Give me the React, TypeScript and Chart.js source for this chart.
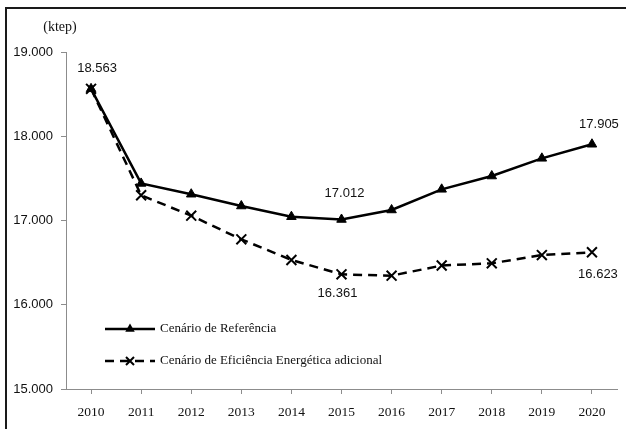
import React, { useEffect, useRef } from "react";
import { Chart, registerables } from "chart.js";

Chart.register(...registerables);

const years = ["2010", "2011", "2012", "2013", "2014", "2015", "2016", "2017", "2018", "2019", "2020"];
const referencia = [18563, 17440, 17312, 17172, 17045, 17012, 17125, 17370, 17528, 17738, 17905];
const eficiencia = [18563, 17300, 17057, 16777, 16531, 16361, 16345, 16466, 16492, 16590, 16623];
const yTicks = [15000, 16000, 17000, 18000, 19000];
const seriesNames = ["Cenário de Referência", "Cenário de Eficiência Energética adicional"];
const unitLabel = "(ktep)";

// which points carry a value label (dataset index, point index) and their placement
const valueLabels = [
  { ds: 0, i: 0, dx: 6, dy: -20 },
  { ds: 0, i: 5, dx: 3, dy: -26 },
  { ds: 1, i: 5, dx: -4, dy: 19 },
  { ds: 0, i: 10, dx: 7, dy: -20 },
  { ds: 1, i: 10, dx: 6, dy: 22 },
];

const fmt = (v: number) => String(Math.round(v)).replace(/\B(?=(\d{3})+(?!\d))/g, ".");

const SERIF = "'Liberation Serif', 'DejaVu Serif', serif";
const SANS = "'Liberation Sans', Arial, sans-serif";

const overlayPlugin = {
  id: "overlay",
  afterDatasetsDraw(chart: any) {
    const ctx = chart.ctx as CanvasRenderingContext2D;
    const area = chart.chartArea;
    ctx.save();
    // value labels
    ctx.font = `13px ${SANS}`;
    ctx.fillStyle = "#111";
    ctx.textAlign = "center";
    ctx.textBaseline = "middle";
    valueLabels.forEach((l) => {
      const meta = chart.getDatasetMeta(l.ds);
      const pt = meta.data[l.i];
      const v = chart.data.datasets[l.ds].data[l.i];
      ctx.fillText(fmt(v), pt.x + l.dx, pt.y + l.dy);
    });
    // unit label
    ctx.font = `14px ${SERIF}`;
    ctx.textAlign = "center";
    ctx.fillText(unitLabel, area.left - 6, 27);

    // legend
    const lx0 = area.left + 39;
    const lx1 = area.left + 89;
    const mx = area.left + 64;
    const ys = [area.bottom - 60, area.bottom - 28];
    // series 1
    ctx.strokeStyle = "#000";
    ctx.lineWidth = 2.5;
    ctx.setLineDash([]);
    ctx.beginPath();
    ctx.moveTo(lx0, ys[0]);
    ctx.lineTo(lx1, ys[0]);
    ctx.stroke();
    const r = 5.5;
    ctx.fillStyle = "#000";
    ctx.beginPath();
    ctx.moveTo(mx, ys[0] - r);
    ctx.lineTo(mx + 0.866 * r, ys[0] + 0.5 * r);
    ctx.lineTo(mx - 0.866 * r, ys[0] + 0.5 * r);
    ctx.closePath();
    ctx.fill();
    // series 2
    ctx.setLineDash([9, 6]);
    ctx.beginPath();
    ctx.moveTo(lx0, ys[1]);
    ctx.lineTo(lx1, ys[1]);
    ctx.stroke();
    ctx.setLineDash([]);
    ctx.lineWidth = 2;
    const c = 4;
    ctx.beginPath();
    ctx.moveTo(mx - c, ys[1] - c);
    ctx.lineTo(mx + c, ys[1] + c);
    ctx.moveTo(mx + c, ys[1] - c);
    ctx.lineTo(mx - c, ys[1] + c);
    ctx.stroke();

    ctx.font = `13px ${SERIF}`;
    ctx.fillStyle = "#111";
    ctx.textAlign = "left";
    ctx.textBaseline = "middle";
    ctx.fillText(seriesNames[0], lx1 + 5, ys[0]);
    ctx.fillText(seriesNames[1], lx1 + 5, ys[1]);
    ctx.restore();
  },
};

export default function App() {
  const ref = useRef<HTMLCanvasElement | null>(null);
  useEffect(() => {
    if (!ref.current) return;
    const chart = new Chart(ref.current, {
      type: "line",
      data: {
        labels: years,
        datasets: [
          {
            label: seriesNames[0],
            data: referencia,
            borderColor: "#000",
            backgroundColor: "#000",
            borderWidth: 2.5,
            pointStyle: "triangle",
            pointRadius: 5.5,
            pointBorderWidth: 1,
            pointBackgroundColor: "#000",
            pointBorderColor: "#000",
            tension: 0,
          },
          {
            label: seriesNames[1],
            data: eficiencia,
            borderColor: "#000",
            backgroundColor: "#000",
            borderWidth: 2.5,
            borderDash: [9, 6],
            pointStyle: "crossRot",
            pointRadius: 7,
            pointBorderWidth: 2,
            pointBorderColor: "#000",
            tension: 0,
          },
        ],
      },
      options: {
        animation: false,
        responsive: false,
        maintainAspectRatio: false,
        layout: { padding: { top: 52, right: 4, left: 0, bottom: 0 } },
        plugins: {
          legend: { display: false },
          tooltip: { enabled: false },
          title: { display: false },
        },
        scales: {
          x: {
            type: "category",
            offset: true,
            grid: {
              display: true,
              drawOnChartArea: false,
              drawTicks: true,
              tickLength: 5,
              color: "#8c8c8c",
              offset: false,
            },
            border: { color: "#8c8c8c", width: 1 },
            ticks: {
              font: { family: SERIF, size: 13.5 },
              color: "#111",
              padding: 10,
              maxRotation: 0,
              autoSkip: false,
            },
            afterFit: (s: any) => {
              s.height = 40;
            },
          },
          y: {
            min: yTicks[0],
            max: yTicks[yTicks.length - 1],
            afterBuildTicks: (s: any) => {
              s.ticks = yTicks.map((v) => ({ value: v }));
            },
            grid: {
              display: true,
              drawOnChartArea: false,
              drawTicks: true,
              tickLength: 5,
              color: "#8c8c8c",
            },
            border: { color: "#8c8c8c", width: 1 },
            ticks: {
              font: { family: SANS, size: 13 },
              color: "#111",
              padding: 8,
              callback: (v: any) => fmt(Number(v)),
            },
            afterFit: (s: any) => {
              s.width = 66;
            },
          },
        },
      },
      plugins: [overlayPlugin],
    } as any);
    return () => chart.destroy();
  }, []);

  return (
    <div style={{ position: "fixed", left: 0, top: 0, width: 626, height: 429, background: "#fff", overflow: "hidden" }}>
      <canvas ref={ref} width={626} height={429} style={{ position: "absolute", left: 0, top: 0, width: 626, height: 429 }} />
      <div style={{ position: "absolute", left: 5, top: 7, width: 2, height: 440, background: "#1a1a1a", pointerEvents: "none" }} />
      <div style={{ position: "absolute", left: 5, top: 7, width: 640, height: 2, background: "#1a1a1a", pointerEvents: "none" }} />
    </div>
  );
}
